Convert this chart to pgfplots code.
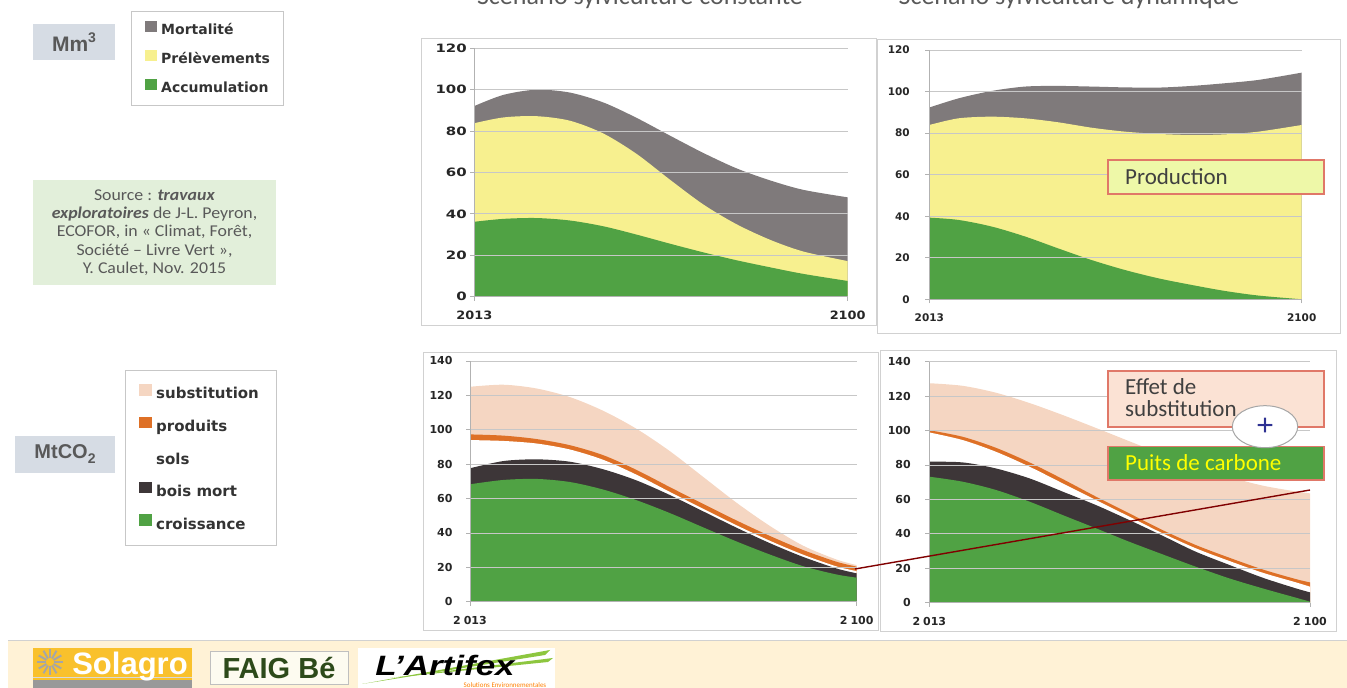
\documentclass[border=0pt]{standalone}
\usepackage{fontspec}
\setmainfont{Carlito}
\newfontfamily\vfont{DejaVu Sans}
\newfontfamily\afont{Liberation Sans}
\usepackage{graphicx}
\usepackage{pgfplots}
\usepackage{pgfplotstable}
\pgfplotsset{compat=1.18}

\definecolor{mort}{RGB}{127,122,123}
\definecolor{prel}{RGB}{247,240,143}
\definecolor{accu}{RGB}{80,162,68}
\definecolor{subst}{RGB}{245,214,194}
\definecolor{prod}{RGB}{222,112,38}
\definecolor{boism}{RGB}{61,54,56}
\definecolor{txtg}{RGB}{89,89,89}
\definecolor{boxred}{RGB}{224,120,104}
\definecolor{cream}{RGB}{255,242,214}
\definecolor{solyel}{RGB}{249,193,44}
\definecolor{faig}{RGB}{45,74,26}
\definecolor{lime}{RGB}{141,198,63}
\definecolor{unitbox}{RGB}{214,220,228}
\definecolor{srcbox}{RGB}{226,239,218}
\definecolor{prodbox}{RGB}{238,248,168}
\definecolor{effbox}{RGB}{251,226,212}
\definecolor{puitstxt}{RGB}{255,255,0}
\definecolor{plusblue}{RGB}{46,49,146}
\definecolor{darkred}{RGB}{128,0,0}
\definecolor{faigbg}{RGB}{253,251,240}

\newcommand{\tka}{\vfont\bfseries\fontsize{11.5}{11.5}\selectfont}
\newcommand{\tkb}{\vfont\bfseries\fontsize{10.5}{10.5}\selectfont}
\newcommand{\tks}{\vfont\bfseries\fontsize{11}{11}\selectfont}

% Mm3, scenario constant (cumulative tops)
\pgfplotstableread{
year   acc  prel mort
2013   36.2 83.8 92.1
2019.8 37.6 86.6 97.5
2027.5 38.0 87.2 100.0
2035.3 36.8 85.0 98.6
2043.1 34.0 78.8 93.8
2050.8 30.0 69.0 86.4
2058.6 25.6 56.5 77.8
2066.4 21.4 44.5 69.4
2074.1 17.6 35.0 62.0
2081.9 14.2 27.5 56.2
2089.7 11.0 21.8 51.6
2100    7.6 17.2 48.0
}\dataA

% Mm3, scenario dynamique
\pgfplotstableread{
year   acc  prel mort
2013   39.3 83.9 92.3
2019.8 38.2 87.1 96.7
2027.6 35.0 87.9 100.3
2035.4 30.2 87.1 102.4
2043.1 24.5 85.2 102.7
2050.9 18.9 82.6 102.4
2058.7 14.1 80.7 102.0
2066.5 10.1 79.6 101.9
2074.3  6.9 79.1 102.7
2082.1  4.0 79.4 104.0
2089.9  1.8 80.7 105.6
2100    0.0 83.9 109.1
}\dataB

% MtCO2, scenario constant
\pgfplotstableread{
year   croi bois sols prod subst
2013   68.3 77.6 94.0 97.3 125.0
2020.5 70.8 81.8 93.5 96.6 126.2
2028   71.4 82.8 92.0 94.6 124.0
2035.5 69.6 81.4 88.5 91.0 119.0
2043   65.2 77.0 82.5 85.2 111.0
2050.5 59.0 70.5 73.8 76.6 100.5
2058   51.5 62.0 63.8 66.6 87.5
2065.5 43.2 52.5 54.0 56.8 72.5
2073   35.0 43.0 44.4 47.2 57.5
2080.5 27.4 34.0 35.4 38.2 44.0
2088   20.6 26.0 27.3 30.0 32.5
2095.5 15.8 19.3 20.5 23.2 24.5
2100   14.0 16.5 17.8 20.4 21.3
}\dataC

% MtCO2, scenario dynamique
\pgfplotstableread{
year   croi bois sols prod subst
2013   73.2 81.9 98.9 100.2 127.5
2020.6 70.3 81.5 94.5 96.4 126.0
2028.2 65.5 78.0 87.7 90.0 122.0
2035.9 58.7 72.2 79.0 81.5 116.0
2043.5 50.9 64.5 69.3 71.8 109.0
2051.1 43.2 56.7 59.6 61.6 101.5
2058.7 35.4 48.0 50.0 51.9 93.8
2066.3 28.1 38.9 40.3 42.2 86.2
2073.9 20.9 29.6 31.6 33.5 79.0
2081.6 14.1 21.9 24.2 26.1 73.0
2089.2  8.3 14.5 17.4 19.3 68.0
2096.8  2.9  8.3 11.8 13.7 64.6
2100    0.6  6.0  9.3 11.8 63.5
}\dataD

\pgfplotsset{
  slide/.style={
    scale only axis, axis on top,
    xmin=2013, xmax=2100, ymin=0,
    axis x line*=bottom, axis y line*=left,
    axis line style={black!30, line width=0.9pt},
    ymajorgrids, major grid style={black!22, line width=0.8pt},
    xtick={2013,2100},
    tick align=outside, major tick length=4pt,
    major tick style={black!30, line width=0.8pt},
    ticklabel style={text=black!85},
    /pgf/number format/assume math mode=true,
  },
}

\begin{document}
\begin{tikzpicture}[x=1pt,y=1pt]
\path[use as bounding box] (0,0) rectangle (1347,688);

% titles (cut by the top edge, as on the slide)
\node[font=\fontsize{26}{26}\selectfont, text=txtg, anchor=base] at (640,683.5) {Scenario sylviculture constante};
\node[font=\fontsize{26}{26}\selectfont, text=txtg, anchor=base] at (1069,683.5) {Scenario sylviculture dynamique};

% unit boxes
\fill[unitbox] (33,628) rectangle (115,664);
\node[font=\afont\bfseries\fontsize{21}{21}\selectfont, text=txtg] at (74,646) {Mm\raisebox{0.42em}{\fontsize{14}{14}\selectfont 3}};
\fill[unitbox] (15,215) rectangle (115,252);
\node[font=\afont\bfseries\fontsize{20}{20}\selectfont, text=txtg] at (65,233.5) {MtCO\raisebox{-0.25em}{\fontsize{14}{14}\selectfont 2}};

% source box
\fill[srcbox] (33,403) rectangle (276,508);
\node[font=\fontsize{16.5}{18.3}\selectfont, text=txtg, align=center, xscale=1.08, transform shape] at (154.5,455.5)
  {Source : \textbf{\textit{travaux}}\\ \textbf{\textit{exploratoires}} de J-L. Peyron,\\ ECOFOR, in « Climat, Forêt,\\ Société – Livre Vert »,\\ Y. Caulet, Nov. 2015};

% legend frames
\draw[black!22, line width=0.8pt] (131,583) rectangle (283,677);
\draw[black!22, line width=0.8pt] (125,143) rectangle (276,318);

% chart frames
\draw[black!18, line width=0.8pt] (421,363) rectangle (876,650);
\draw[black!18, line width=0.8pt] (877,355) rectangle (1340,649);
\draw[black!18, line width=0.8pt] (423,58) rectangle (878,336);
\draw[black!18, line width=0.8pt] (880,57) rectangle (1336,338);

% --- chart A
\begin{axis}[slide, at={(474.3pt,391.3pt)}, anchor=south west,
  width=373.4pt, height=248.4pt, ymax=120, ytick={0,20,...,120},
  xticklabels={\scalebox{1.12}[1]{2013},\scalebox{1.12}[1]{2100}},
  xticklabel style={font=\tka, yshift=-7pt},
  yticklabel style={font=\tka},
  yticklabel={\scalebox{1.3}[1]{\pgfmathprintnumber{\tick}}},
  legend style={at={(-0.8819,1.1099)}, anchor=north west, draw=none, fill=none,
    inner sep=0pt, row sep=10.5pt, column sep=2pt,
    font=\vfont\bfseries\fontsize{14}{14}\selectfont, text=black!80,
    nodes={inner sep=2pt, text height=10pt, text depth=3pt}},
  legend cell align=left,
  legend image code/.code={\fill[#1] (0pt,-0.5pt) rectangle (12pt,10pt);}]
\addplot[fill=mort, draw=none, smooth] table[x=year, y=mort] {\dataA} \closedcycle;
\addlegendentry{Mortalité}
\addplot[fill=prel, draw=none, smooth] table[x=year, y=prel] {\dataA} \closedcycle;
\addlegendentry{Prélèvements}
\addplot[fill=accu, draw=none, smooth] table[x=year, y=acc] {\dataA} \closedcycle;
\addlegendentry{Accumulation}
\end{axis}

% --- chart B
\begin{axis}[slide, at={(929.3pt,388.7pt)}, anchor=south west,
  width=372.4pt, height=249.3pt, ymax=120, ytick={0,20,...,120},
  xticklabels={2013,2100}, xticklabel style={font=\tkb, yshift=-7pt},
  yticklabel style={font=\tkb, xshift=-12pt}]
\addplot[fill=mort, draw=none, smooth] table[x=year, y=mort] {\dataB} \closedcycle;
\addplot[fill=prel, draw=none, smooth] table[x=year, y=prel] {\dataB} \closedcycle;
\addplot[fill=accu, draw=none, smooth] table[x=year, y=acc] {\dataB} \closedcycle;
\end{axis}

% --- chart C
\begin{axis}[slide, at={(470pt,86.3pt)}, anchor=south west,
  width=386.7pt, height=240.7pt, ymax=140, ytick={0,20,...,140},
  xticklabels={2\hspace{3pt}013,2\hspace{3pt}100}, xticklabel style={font=\tks, yshift=-7pt},
  yticklabel style={font=\tks, xshift=-10pt},
  legend style={at={(-0.856,0.9045)}, anchor=north west, draw=none, fill=none,
    inner sep=0pt, row sep=12.3pt, column sep=2pt,
    font=\vfont\bfseries\fontsize{15}{15}\selectfont, text=black!80,
    nodes={inner sep=2pt, text height=11pt, text depth=3.5pt}},
  legend cell align=left,
  legend image code/.code={\fill[#1] (0pt,-0.5pt) rectangle (13pt,11pt);}]
\addplot[fill=subst, draw=none, smooth] table[x=year, y=subst] {\dataC} \closedcycle;
\addlegendentry{substitution}
\addplot[fill=prod, draw=none, smooth] table[x=year, y=prod] {\dataC} \closedcycle;
\addlegendentry{produits}
\addplot[fill=white, draw=none, smooth] table[x=year, y=sols] {\dataC} \closedcycle;
\addlegendentry{sols}
\addplot[fill=boism, draw=none, smooth] table[x=year, y=bois] {\dataC} \closedcycle;
\addlegendentry{bois mort}
\addplot[fill=accu, draw=none, smooth] table[x=year, y=croi] {\dataC} \closedcycle;
\addlegendentry{croissance}
\end{axis}

% --- chart D
\begin{axis}[slide, at={(929.3pt,85.3pt)}, anchor=south west,
  width=380.7pt, height=241pt, ymax=140, ytick={0,20,...,140},
  xticklabels={2\hspace{3pt}013,2\hspace{3pt}100}, xticklabel style={font=\tks, yshift=-7pt},
  yticklabel style={font=\tks, xshift=-11pt}]
\addplot[fill=subst, draw=none, smooth] table[x=year, y=subst] {\dataD} \closedcycle;
\addplot[fill=prod, draw=none, smooth] table[x=year, y=prod] {\dataD} \closedcycle;
\addplot[fill=white, draw=none, smooth] table[x=year, y=sols] {\dataD} \closedcycle;
\addplot[fill=boism, draw=none, smooth] table[x=year, y=bois] {\dataD} \closedcycle;
\addplot[fill=accu, draw=none, smooth] table[x=year, y=croi] {\dataD} \closedcycle;
\end{axis}

% annotation boxes
\draw[boxred, line width=1.6pt, fill=prodbox] (1107.7,494) rectangle (1324,528);
\node[font=\fontsize{23}{23}\selectfont, text=black!75, anchor=base west] at (1121.7,503) {Production};

\draw[boxred, line width=1.6pt, fill=effbox] (1107.7,261) rectangle (1324,317);
\node[font=\fontsize{23}{23}\selectfont, text=black!75, anchor=base west] at (1121.7,293) {Effet de};
\node[font=\fontsize{23}{23}\selectfont, text=black!75, anchor=base west] at (1121.7,271.3) {substitution};

\draw[boxred, line width=1.6pt, fill=accu] (1107.7,208) rectangle (1324,241.3);
\node[font=\fontsize{23}{23}\selectfont, text=puitstxt, anchor=base west] at (1121.7,217) {Puits de carbone};

\draw[black!35, line width=1pt, fill=white] (1265,261.3) ellipse [x radius=32.7, y radius=21];
\node[font=\afont\fontsize{30}{30}\selectfont, text=plusblue] at (1265,261.3) {+};

\draw[darkred, line width=1.4pt] (855,119) -- (1310,198);

% footer band
\fill[cream] (8,0) rectangle (1347,47);
\draw[black!18, line width=1pt] (8,47) -- (1347,47);

% Solagro
\fill[solyel] (33,0) rectangle (192,40);
\fill[black!40] (33,0) rectangle (192,8);
\draw[black!15, line width=1pt] (33,10.5) -- (192,10.5);
\foreach \a in {0,30,...,330} \draw[black!35, line width=2pt] (50,26) ++(\a:4) -- ++(\a:9);
\node[font=\afont\bfseries\fontsize{31}{31}\selectfont, text=white, anchor=base] at (130,13) {Solagro};

% FAIG Be
\draw[black!25, fill=faigbg] (210,4) rectangle (348,37);
\node[font=\afont\bfseries\fontsize{29}{29}\selectfont, text=faig, anchor=base] at (279,9) {FAIG Bé};

% L'Artifex
\fill[white] (358,0) rectangle (555,40);
\fill[lime] (362,4) -- (550,38) -- (545,33) -- cycle;
\fill[lime] (390,10) -- (553,30) -- (548,26) -- cycle;
\node[font=\afont\bfseries\itshape\fontsize{28}{28}\selectfont, anchor=base] at (445,12) {\scalebox{1.25}[1]{L’Artifex}};
\node[font=\fontsize{7}{7}\selectfont, text=orange, anchor=base] at (505,0.5) {Solutions Environnementales};
\end{tikzpicture}
\end{document}
